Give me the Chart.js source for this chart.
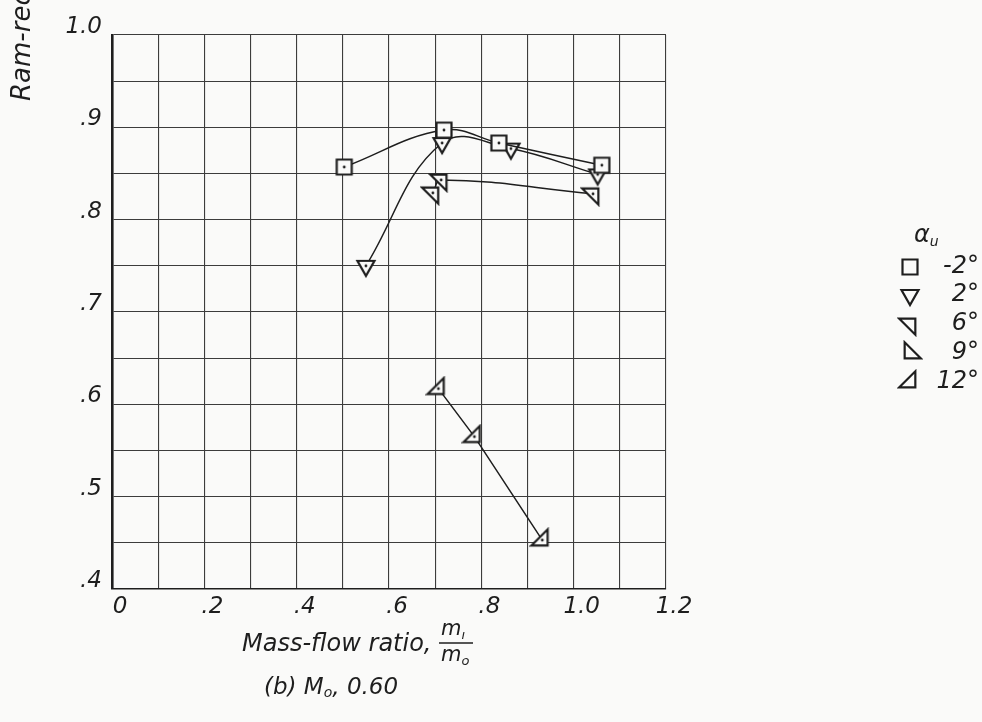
<!DOCTYPE html>
<html>
<head>
<meta charset="utf-8">
<script src="https://cdn.jsdelivr.net/npm/chart.js@4.4.1/dist/chart.umd.min.js"></script>
<style>
    html, body { margin: 0; padding: 0; background: #fafaf9; }
    #wrap { width: 982px; height: 722px; }
</style>
</head>
<body>
<div id="wrap"><canvas id="recoveryChart" width="982" height="722"></canvas></div>
<script>
// angle of attack, one series per angle
var alphaLabels = ["-2°", "2°", "6°", "9°", "12°"];
var markerKinds = ["square", "down", "topRight", "bottomLeft", "bottomRight"];

// mass-flow ratio m1/m0 and ram-recovery ratio for each angle
var massFlowM2 = [0.503, 0.719, 0.838, 1.061];
var recoveryM2 = [0.857, 0.897, 0.883, 0.859];
var massFlow2 = [0.550, 0.715, 0.864, 1.052];
var recovery2 = [0.750, 0.883, 0.877, 0.849];
var massFlow6 = [0.695, 0.713, 1.042];
var recovery6 = [0.829, 0.843, 0.828];
var massFlow9 = [];
var recovery9 = [];
var massFlow12 = [0.707, 0.785, 0.932];
var recovery12 = [0.617, 0.565, 0.453];

var FONT = '"DejaVu Sans", "Liberation Sans", sans-serif';
var INK = "#1e1e1e";
var PAPER = "#fafaf9";

function make_marker(kind, withDot) {
    var c = document.createElement("canvas");
    c.width = 26;
    c.height = 26;
    var g = c.getContext("2d");
    var s = kind == "square" ? 15 : 17;
    var pts;
    if (kind == "square") {
        pts = [[-s / 2, -s / 2], [s / 2, -s / 2], [s / 2, s / 2], [-s / 2, s / 2]];
    } else {
        var tri = {
            down: [[0, 0], [s, 0], [s / 2, s - 2]],
            topRight: [[0, 0], [s - 1, 0], [s - 1, s - 1]],
            bottomLeft: [[0, 0], [0, s - 1], [s - 1, s - 1]],
            bottomRight: [[0, s - 1], [s - 1, s - 1], [s - 1, 0]],
        }[kind];
        var cx = (tri[0][0] + tri[1][0] + tri[2][0]) / 3;
        var cy = (tri[0][1] + tri[1][1] + tri[2][1]) / 3;
        pts = tri.map((p) => [p[0] - cx, p[1] - cy]);
    }
    g.translate(13, 13);
    g.beginPath();
    g.moveTo(pts[0][0], pts[0][1]);
    for (var i = 1; i < pts.length; i++) {
        g.lineTo(pts[i][0], pts[i][1]);
    }
    g.closePath();
    g.fillStyle = PAPER;
    g.fill();
    g.lineWidth = 2.2;
    g.lineJoin = "miter";
    g.strokeStyle = INK;
    g.stroke();
    if (withDot) {
        g.beginPath();
        g.arc(0, 0, 1.4, 0, Math.PI * 2);
        g.fillStyle = INK;
        g.fill();
    }
    return c;
}

function to_points(xs, ys) {
    return xs.map((x, i) => ({ x: x, y: ys[i] }));
}

var seriesX = [massFlowM2, massFlow2, massFlow6, massFlow9, massFlow12];
var seriesY = [recoveryM2, recovery2, recovery6, recovery9, recovery12];
var seriesTension = [0.4, 0.4, 0.4, 0.4, 0];

var datasets = [];
for (var i = 0; i < alphaLabels.length; i++) {
    datasets.push({
        label: alphaLabels[i],
        data: to_points(seriesX[i], seriesY[i]),
        showLine: true,
        borderColor: INK,
        borderWidth: 1.5,
        tension: seriesTension[i],
        pointStyle: make_marker(markerKinds[i], true),
        legendMarker: make_marker(markerKinds[i], false),
        pointRadius: 9,
        pointHoverRadius: 9,
        fill: false,
    });
}

function fmt_x(value) {
    var v = Math.round(value * 100) / 100;
    if (Math.round(v * 10) % 2 !== 0) return "";
    if (v === 0) return "0";
    if (v < 1) return "." + Math.round(v * 10);
    return v.toFixed(1);
}

function fmt_y(value) {
    var v = Math.round(value * 100);
    if (v % 10 !== 0) return "";
    if (v >= 100) return "1.0";
    return "." + v / 10;
}

// page background
var backgroundPlugin = {
    id: "background",
    beforeDraw(chart) {
        var ctx = chart.ctx;
        ctx.save();
        ctx.fillStyle = PAPER;
        ctx.fillRect(0, 0, chart.width, chart.height);
        ctx.restore();
    },
};

function text_with_sub(ctx, parts, x, y, size) {
    // parts: [text, isSubscript]
    var cx = x;
    for (var p of parts) {
        if (p[1]) {
            ctx.font = "italic 300 " + Math.round(size * 0.6) + "px " + FONT;
            ctx.fillText(p[0], cx, y + size * 0.25);
        } else {
            ctx.font = "italic 300 " + size + "px " + FONT;
            ctx.fillText(p[0], cx, y);
        }
        cx += ctx.measureText(p[0]).width;
    }
    return cx;
}

// axis titles, caption and the angle key
var labelsPlugin = {
    id: "labels",
    afterDraw(chart) {
        var ctx = chart.ctx;
        ctx.save();
        ctx.fillStyle = INK;
        ctx.textBaseline = "middle";
        ctx.textAlign = "left";

        // y title runs off the top edge
        ctx.save();
        ctx.translate(23, 101);
        ctx.rotate(-Math.PI / 2);
        ctx.font = "italic 300 26px " + FONT;
        ctx.fillText("Ram-recovery ratio", 0, 0);
        ctx.restore();

        // x title with m1/m0 fraction
        ctx.font = "italic 300 24px " + FONT;
        ctx.fillText("Mass-flow ratio,", 242, 645);
        var fx = 441;
        text_with_sub(ctx, [["m", false], ["ı", true]], fx, 630, 21);
        ctx.beginPath();
        ctx.moveTo(fx - 2, 643);
        ctx.lineTo(fx + 32, 643);
        ctx.lineWidth = 1.3;
        ctx.strokeStyle = INK;
        ctx.stroke();
        text_with_sub(ctx, [["m", false], ["o", true]], fx, 656, 21);

        // caption
        text_with_sub(ctx, [["(b) M", false], ["o", true], [", 0.60", false]], 264, 688, 23);

        // angle key
        text_with_sub(ctx, [["α", false], ["u", true]], 914, 236, 24);
        var rows = [267, 295, 324, 353, 382];
        chart.data.datasets.forEach((ds, i) => {
            ctx.drawImage(ds.legendMarker, 910 - 13, rows[i] - 13);
            ctx.textAlign = "right";
            ctx.font = "italic 300 24px " + FONT;
            ctx.fillText(ds.label, 979, rows[i]);
            ctx.textAlign = "left";
        });
        ctx.restore();
    },
};

var tickFont = { family: FONT, size: 23, style: "italic", weight: "300" };

var recoveryChart = new Chart("recoveryChart", {
    type: "scatter",
    data: { datasets: datasets },
    options: {
        responsive: false,
        animation: false,
        events: [],
        layout: { padding: { left: 52, top: 35, right: 316, bottom: 93 } },
        plugins: {
            legend: { display: false },
            tooltip: { enabled: false },
        },
        scales: {
            x: {
                type: "linear",
                min: 0,
                max: 1.2,
                afterFit: (scale) => { scale.height = 40; },
                afterBuildTicks: (scale) => {
                    var t = [];
                    for (var k = 0; k <= 12; k++) t.push({ value: k / 10 });
                    scale.ticks = t;
                },
                ticks: {
                    autoSkip: false,
                    maxRotation: 0,
                    padding: 4,
                    labelOffset: 8,
                    color: INK,
                    font: tickFont,
                    callback: fmt_x,
                },
                grid: { color: "#3c3c3c", lineWidth: 1.1, drawTicks: false },
                border: { color: INK, width: 1.6 },
            },
            y: {
                type: "linear",
                min: 0.4,
                max: 1.0,
                afterFit: (scale) => { scale.width = 60; },
                afterBuildTicks: (scale) => {
                    var t = [];
                    for (var k = 8; k <= 20; k++) t.push({ value: k / 20 });
                    scale.ticks = t;
                },
                ticks: {
                    autoSkip: false,
                    padding: 10,
                    labelOffset: -8,
                    color: INK,
                    font: tickFont,
                    callback: fmt_y,
                },
                grid: { color: "#3c3c3c", lineWidth: 1.1, drawTicks: false },
                border: { color: INK, width: 2.6 },
            },
        },
    },
    plugins: [backgroundPlugin, labelsPlugin],
});
</script>
</body>
</html>
